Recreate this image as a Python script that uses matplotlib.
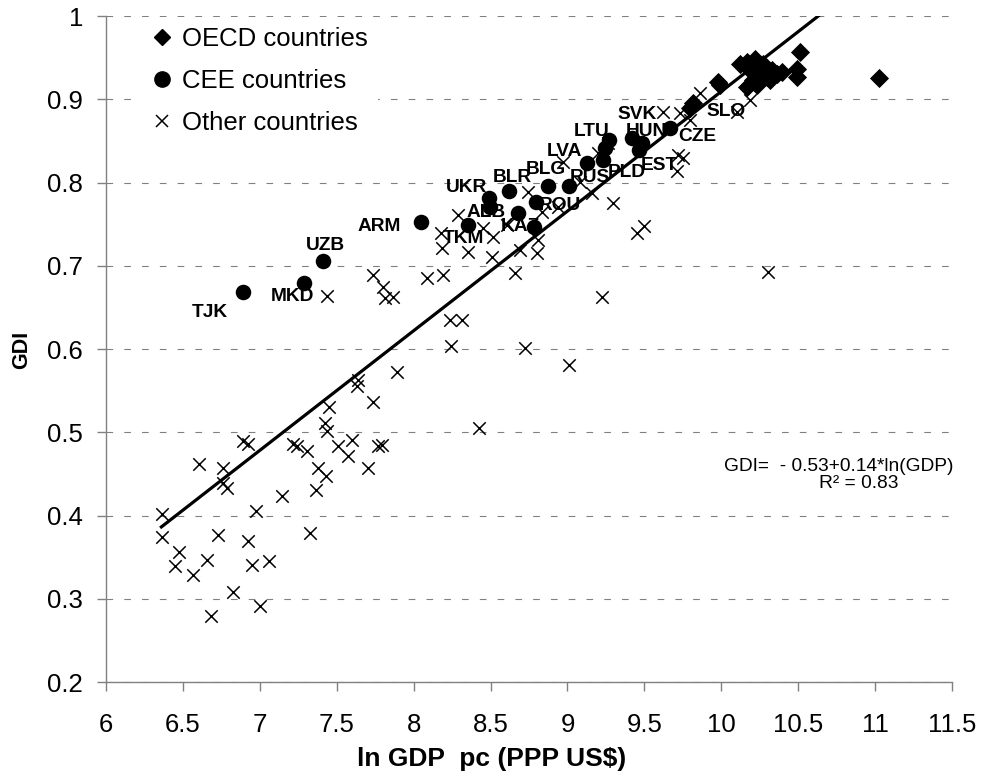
import numpy as np
import matplotlib
matplotlib.use("Agg")
import matplotlib.pyplot as plt
from matplotlib.lines import Line2D

plt.rcParams["font.family"] = ["Liberation Sans", "DejaVu Sans"]

# ln GDP per capita (PPP US$) vs GDI, three country groups
oecd_x = [9.819, 9.80, 9.981, 9.99, 10.122, 10.166, 10.220, 10.274, 10.328, 10.361, 10.187,
          10.252, 10.295, 10.209, 10.166, 10.231, 10.317, 10.393, 10.512, 10.495, 10.49, 11.026]
oecd_y = [0.895, 0.889, 0.921, 0.917, 0.943, 0.945, 0.949, 0.943, 0.935, 0.931, 0.935,
          0.933, 0.927, 0.923, 0.915, 0.917, 0.923, 0.933, 0.957, 0.937, 0.927, 0.926]

cee_code = ["TJK", "MKD", "UZB", "ARM", "TKM", "UKR", "ALB", "BLR", "", "KAZ", "ROU", "BLG",
            "RUS", "LVA", "PLD", "", "LTU", "SVK", "HUN", "EST", "CZE"]
cee_x = [6.889, 7.289, 7.413, 8.046, 8.356, 8.488, 8.494, 8.622, 8.681, 8.783, 8.796, 8.876,
         9.010, 9.125, 9.233, 9.244, 9.272, 9.418, 9.483, 9.467, 9.667]
cee_y = [0.669, 0.679, 0.706, 0.753, 0.749, 0.781, 0.771, 0.790, 0.763, 0.747, 0.777, 0.796,
         0.796, 0.823, 0.827, 0.841, 0.851, 0.853, 0.848, 0.839, 0.865]

other_x = [6.362, 6.362, 6.477, 6.449, 6.564, 6.655, 6.683, 6.607, 6.759, 6.763, 6.789, 6.730,
           6.828, 6.889, 6.925, 6.925, 6.947, 6.973, 7.001, 7.060, 7.142, 7.218, 7.244, 7.305,
           7.326, 7.365, 7.380, 7.430, 7.424, 7.435, 7.452, 7.510, 7.575, 7.597, 7.640, 7.634,
           7.734, 7.706, 7.771, 7.792, 7.890, 8.237, 8.313, 8.241, 8.724, 9.010, 8.427, 9.222,
           7.439, 7.738, 7.803, 7.814, 7.864, 8.085, 8.193, 8.178, 8.183, 8.291, 8.356, 8.449,
           8.519, 8.606, 8.692, 8.811, 8.800, 8.507, 8.659, 8.746, 8.833, 8.941, 9.082, 9.158,
           8.973, 9.201, 9.266, 9.298, 9.450, 9.498, 9.721, 9.749, 9.715, 9.624, 9.730, 9.800,
           10.304, 10.10, 10.19, 9.86]
other_y = [0.402, 0.374, 0.356, 0.339, 0.329, 0.347, 0.279, 0.462, 0.457, 0.439, 0.433, 0.377,
           0.308, 0.489, 0.486, 0.370, 0.341, 0.406, 0.291, 0.345, 0.423, 0.486, 0.484, 0.477,
           0.379, 0.431, 0.457, 0.447, 0.511, 0.501, 0.530, 0.483, 0.471, 0.491, 0.563, 0.556,
           0.536, 0.457, 0.483, 0.485, 0.572, 0.635, 0.635, 0.604, 0.601, 0.581, 0.505, 0.662,
           0.664, 0.689, 0.675, 0.661, 0.662, 0.685, 0.689, 0.739, 0.721, 0.761, 0.716, 0.745,
           0.735, 0.749, 0.719, 0.731, 0.715, 0.711, 0.691, 0.789, 0.765, 0.771, 0.801, 0.787,
           0.825, 0.835, 0.847, 0.775, 0.739, 0.748, 0.833, 0.830, 0.814, 0.885, 0.883, 0.875,
           0.692, 0.885, 0.899, 0.907]

# log trend: GDI = a + b * ln(GDP)
trend_a = -0.5276
trend_b = 0.1437
trend_range = [6.36, 11.03]

# label placement relative to each circle, in pixels
label_offset = {
    "TJK": (-33, -21), "MKD": (-12, -13), "UZB": (2, 15), "ARM": (-41, -5),
    "TKM": (-5, -13), "UKR": (-22, 11), "ALB": (-4, -6), "BLR": (3, 13),
    "KAZ": (-14, 0), "ROU": (24, -4), "BLG": (-2, 16), "RUS": (21, 8),
    "LVA": (-22, 12), "PLD": (23, -12), "LTU": (-18, 9), "SVK": (5, 24),
    "HUN": (5, 11), "EST": (20, -15), "CZE": (27, -8),
}

fig = plt.figure(figsize=(9.86, 7.8), dpi=100)
ax = fig.add_axes([0.1075, 0.1256, 0.858, 0.8538])

gray = "#808080"
ax.scatter(oecd_x, oecd_y, marker="D", s=95, color="black", linewidths=0, zorder=3)
ax.scatter(cee_x, cee_y, marker="o", s=125, color="black", linewidths=0, zorder=4)
ax.scatter(other_x, other_y, marker="x", s=80, color="black", linewidths=1.1, zorder=4)

tx = np.array(trend_range)
ax.plot(tx, trend_a + trend_b * tx, color="black", linewidth=2.3, zorder=5)

for code, x, y in zip(cee_code, cee_x, cee_y):
    if not code:
        continue
    dx, dy = label_offset[code]
    ax.annotate(code, xy=(x, y), xytext=(dx, dy), textcoords="offset pixels",
                ha="center", va="center", fontsize=13.8, fontweight="bold", zorder=3.5)
ax.text(10.03, 0.885, "SLO", ha="center", va="center", fontsize=13.8,
        fontweight="bold", zorder=3.5)

ax.text(11.507, 0.459, "GDI=  - 0.53+0.14*ln(GDP)", ha="right", va="center", fontsize=13.8)
ax.text(10.891, 0.438, "R² = 0.83", ha="center", va="center", fontsize=13.8)

ax.set_xlim(6, 11.5)
ax.set_ylim(0.2, 1.0)
ax.set_xticks(np.arange(6, 11.51, 0.5))
ax.set_xticklabels(["6", "6.5", "7", "7.5", "8", "8.5", "9", "9.5", "10", "10.5", "11", "11.5"])
ax.set_yticks(np.arange(0.2, 1.001, 0.1))
ax.set_yticklabels(["0.2", "0.3", "0.4", "0.5", "0.6", "0.7", "0.8", "0.9", "1"])

for side in ["top", "right"]:
    ax.spines[side].set_visible(False)
for side in ["left", "bottom"]:
    ax.spines[side].set_color(gray)
    ax.spines[side].set_linewidth(1.0)
ax.tick_params(axis="both", direction="out", length=6.5, width=1.0, color=gray,
               labelsize=18.5)
ax.tick_params(axis="x", pad=16)
ax.tick_params(axis="y", pad=10)

ax.yaxis.grid(True, color=gray, linewidth=0.8, linestyle=(0, (6, 10)))
ax.set_axisbelow(True)

# axis titles placed by their centres
fig.text(22 / 986, 1 - 350 / 780, "GDI", rotation=90, ha="center", va="center",
         fontsize=15.5, fontweight="bold")
fig.text(492 / 986, 1 - 759 / 780, "ln GDP  pc (PPP US$)", ha="center", va="center",
         fontsize=19, fontweight="bold")

handles = [
    Line2D([], [], marker="D", linestyle="none", color="black", markersize=8),
    Line2D([], [], marker="o", linestyle="none", color="black", markersize=11),
    Line2D([], [], marker="x", linestyle="none", color="black", markersize=9,
           markeredgewidth=1.1),
]
leg = ax.legend(handles, ["OECD countries", "CEE countries", "Other countries"],
                loc="upper left", bbox_to_anchor=(0.0418, 0.9985), fontsize=18.5,
                frameon=True, facecolor="white", edgecolor="none", framealpha=1,
                fancybox=False, borderaxespad=0, borderpad=0.4, handlelength=0.8,
                handletextpad=0.38, labelspacing=0.69)

fig.savefig("out.png", dpi=100, facecolor="white")
